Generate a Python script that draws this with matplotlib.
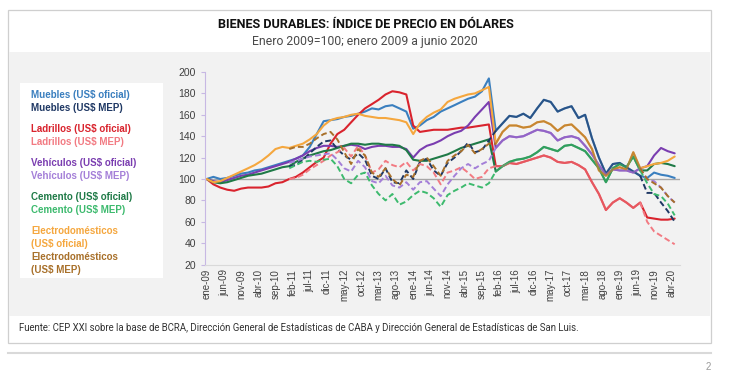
import numpy as np
import pandas as pd
import matplotlib
matplotlib.use("Agg")
import matplotlib.pyplot as plt
from matplotlib.patches import Rectangle

# --- datos (cada 2 meses, ene-09 a may-20; base ene-09 = 100) ---
fechas = pd.date_range("2009-01-01", "2020-05-01", freq="2MS")

muebles_of = [100, 102, 100, 101, 103, 105, 106, 108, 109, 111, 113, 115, 117, 119, 122, 130, 142, 154,
              155, 156, 158, 159, 161, 163, 166, 165, 168, 169, 166, 163, 147, 150, 155, 158, 163, 166,
              169, 172, 175, 177, 182, 194, 145, 152, 159, 158, 161, 157, 166, 174, 172, 163, 166, 168,
              157, 160, 138, 120, 105, 114, 115, 111, 107, 103, 101, 106, 104, 103, 101]
ladrillos_of = [100, 95, 92, 90, 89, 91, 92, 92, 92, 93, 96, 97, 100, 102, 106, 111, 116, 120,
                133, 142, 146, 153, 160, 166, 170, 174, 179, 182, 181, 179, 150, 144, 145, 146, 146, 146,
                147, 148, 148, 149, 150, 151, 112, 112, 115, 114, 116, 118, 120, 122, 120, 116, 115, 116,
                113, 109, 97, 86, 71, 78, 82, 78, 73, 78, 64, 63, 62, 62, 63]
vehiculos_of = [100, 98, 97, 99, 101, 103, 104, 106, 108, 110, 112, 114, 116, 119, 122, 126, 129, 131,
                131, 130, 131, 132, 131, 128, 130, 131, 131, 130, 130, 128, 120, 127, 131, 133, 136, 140,
                143, 145, 150, 158, 165, 172, 129, 136, 140, 139, 140, 143, 146, 145, 143, 136, 139, 140,
                138, 131, 123, 113, 104, 109, 108, 108, 106, 110, 112, 122, 129, 126, 124]
cemento_of = [100, 97, 96, 97, 99, 101, 103, 104, 105, 107, 109, 111, 112, 116, 119, 122, 124, 126,
              127, 129, 131, 133, 133, 132, 133, 133, 132, 132, 131, 127, 118, 117, 117, 119, 121, 123,
              126, 129, 131, 133, 135, 137, 107, 112, 116, 118, 119, 121, 125, 130, 128, 126, 131, 132,
              129, 126, 118, 110, 97, 110, 114, 111, 121, 108, 108, 114, 115, 114, 112]
electro_of = [100, 97, 98, 101, 104, 107, 110, 113, 117, 122, 128, 130, 129, 131, 133, 137, 142, 150,
              155, 157, 158, 160, 161, 159, 158, 157, 157, 156, 155, 153, 142, 152, 158, 162, 165, 172,
              175, 177, 179, 180, 183, 186, 133, 144, 150, 150, 148, 149, 153, 154, 151, 145, 150, 151,
              145, 139, 128, 108, 103, 109, 111, 109, 125, 110, 112, 114, 115, 117, 121]

N = None
# dolar MEP: solo donde se separa del oficial (ene-11 a nov-15 y desde sep-19)
muebles_mep = [N] * 12 + [112, 113, 118, 124, 130, 135, 136, 128, 122, 118, 124, 118, 103, 100, 110,
                          97, 96, 108, 100, 116, 119, 108, 103, 115, 120, 126, 134, 125, 127, 136] \
              + [N] * 22 + [87, 87, 78, 70, 60]
ladrillos_mep = [N] * 12 + [100, 101, 104, 109, 113, 117, 122, 125, 129, 121, 131, 122, 106, 109, 117,
                            113, 111, 116, 108, 114, 112, 106, 95, 106, 108, 111, 106, 100, 102, 110] \
                + [N] * 22 + [60, 51, 47, 43, 39]
vehiculos_mep = [N] * 12 + [115, 117, 119, 121, 122, 123, 124, 118, 110, 107, 117, 111, 98, 96, 103,
                            94, 92, 97, 90, 97, 98, 91, 84, 95, 103, 110, 114, 110, 114, 117] \
                + [N] * 22 + [99, 98, 92, 84, 78]
cemento_mep = [N] * 12 + [110, 113, 116, 117, 116, 118, 119, 112, 100, 96, 104, 106, 94, 86, 80,
                          86, 76, 79, 85, 89, 87, 82, 74, 85, 89, 92, 96, 94, 92, 96] \
              + [N] * 22 + [96, 86, 84, 77, 66]
electro_mep = [N] * 12 + [128, 130, 130, 133, 138, 142, 144, 137, 125, 114, 128, 122, 106, 102, 110,
                          100, 94, 104, 102, 117, 120, 112, 103, 117, 122, 126, 132, 124, 128, 133] \
              + [N] * 22 + [100, 96, 92, 84, 78]

series = [
    ("Muebles (US$ oficial)", muebles_of, "#3a7fbf", "Muebles (US$ MEP)", muebles_mep, "#1f3864"),
    ("Ladrillos (US$ oficial)", ladrillos_of, "#d9232d", "Ladrillos (US$ MEP)", ladrillos_mep, "#f27a82"),
    ("Vehículos (US$ oficial)", vehiculos_of, "#7a3db0", "Vehículos (US$ MEP)", vehiculos_mep, "#a47fd8"),
    ("Cemento (US$ oficial)", cemento_of, "#1f7a47", "Cemento (US$ MEP)", cemento_mep, "#3dba6e"),
    ("Electrodomésticos\n(US$ oficial)", electro_of, "#f5a73e",
     "Electrodomésticos\n(US$ MEP)", electro_mep, "#a8702a"),
]

meses = ["ene", "feb", "mar", "abr", "may", "jun", "jul", "ago", "sep", "oct", "nov", "dic"]
tick_fechas = pd.date_range("2009-01-01", periods=28, freq="5MS")
tick_labels = [f"{meses[d.month - 1]}-{d.year % 100:02d}" for d in tick_fechas]

titulo = "BIENES DURABLES: ÍNDICE DE PRECIO EN DÓLARES"
subtitulo = "Enero 2009=100; enero 2009 a junio 2020"
fuente = ("Fuente: CEP XXI sobre la base de BCRA, Dirección General de Estadísticas de CABA "
          "y Dirección General de Estadísticas de San Luis.")

W, H = 730, 374
roboto = ["Roboto", "DejaVu Sans"]
plt.rcParams["font.family"] = ["Liberation Sans", "DejaVu Sans"]

fig = plt.figure(figsize=(W / 100, H / 100), dpi=100)
fig.patch.set_facecolor("white")


def box(x0, y0, x1, y1, **kw):
    fig.add_artist(Rectangle((x0 / W, 1 - y1 / H), (x1 - x0) / W, (y1 - y0) / H,
                             transform=fig.transFigure, zorder=-5, **kw))


box(8, 10, 711, 343, facecolor="white", edgecolor="#cfcfcf", lw=0.9)
box(9, 52, 710, 316, facecolor="#f2f2f2", edgecolor="none")
box(20, 83, 163, 278, facecolor="white", edgecolor="none")
fig.add_artist(plt.Line2D([8 / W, 711 / W], [1 - 353 / H] * 2, color="#d9d9d9", lw=1.5))

fig.text(366 / W, 1 - 25 / H, titulo, ha="center", va="center", fontsize=9.1,
         fontweight="bold", family=roboto, fontstretch="condensed", color="#111111")
fig.text(365 / W, 1 - 42 / H, subtitulo, ha="center", va="center", fontsize=8.8,
         family=roboto, fontstretch="condensed", color="#4a4a4a")
fig.text(19 / W, 1 - 328 / H, fuente, ha="left", va="center", fontsize=6.9,
         family=roboto, fontstretch="condensed", color="#333333")
fig.text(708 / W, 1 - 367 / H, "2", ha="center", va="center", fontsize=7, color="#9a9a9a")

# leyenda como texto coloreado
fila = 95
for lab_of, _, c_of, lab_mep, _, c_mep in series:
    for lab, c in [(lab_of, c_of), (lab_mep, c_mep)]:
        for linea in lab.split("\n"):
            fig.text(31 / W, 1 - fila / H, linea, ha="left", va="center", fontsize=7,
                     fontweight="bold", family=["Liberation Sans", "DejaVu Sans"], color=c)
            fila += 13.2
    fila += 7.5

ax = fig.add_axes([205 / W, 1 - 264.6 / H, (680 - 205) / W, (264.6 - 72) / H])
ax.set_zorder(5)
ax.set_facecolor("none")
ax.axhline(100, color="#a6a6a6", lw=1.0, zorder=1)

for lab_of, of, c_of, lab_mep, mep, c_mep in series:
    of = np.array(of, dtype=float)
    mep = np.array(mep, dtype=float)
    ax.plot(fechas, of, color=c_of, lw=1.5, zorder=2, solid_capstyle="round")
    full = mep.copy()
    full[42:64] = of[42:64]          # ene-16 a jul-19: MEP = oficial
    ax.plot(fechas[12:43], full[12:43], color=c_mep, lw=1.4, ls=(0, (3, 1.6)), zorder=3)
    ax.plot(fechas[42:64], full[42:64], color=c_mep, lw=1.5, alpha=0.6, zorder=3)
    ax.plot(fechas[63:], np.r_[of[63], mep[64:]], color=c_mep, lw=1.4, ls=(0, (3, 1.6)), zorder=3)

ax.set_ylim(20, 200)
ax.set_yticks(range(20, 201, 20))
ax.set_xlim(pd.Timestamp("2008-12-17"), pd.Timestamp("2020-06-17"))
ax.set_xticks(tick_fechas)
ax.set_xticklabels(tick_labels, rotation=90)
ax.tick_params(axis="y", labelsize=7.5, colors="#404040", length=3, color="#c7b8e3")
ax.tick_params(axis="x", labelsize=7, colors="#404040", length=0, pad=3)
for s in ["top", "right"]:
    ax.spines[s].set_visible(False)
ax.spines["left"].set_color("#c7b8e3")
ax.spines["bottom"].set_color("#d9d9d9")

fig.savefig("out.png", dpi=100, facecolor="white")
